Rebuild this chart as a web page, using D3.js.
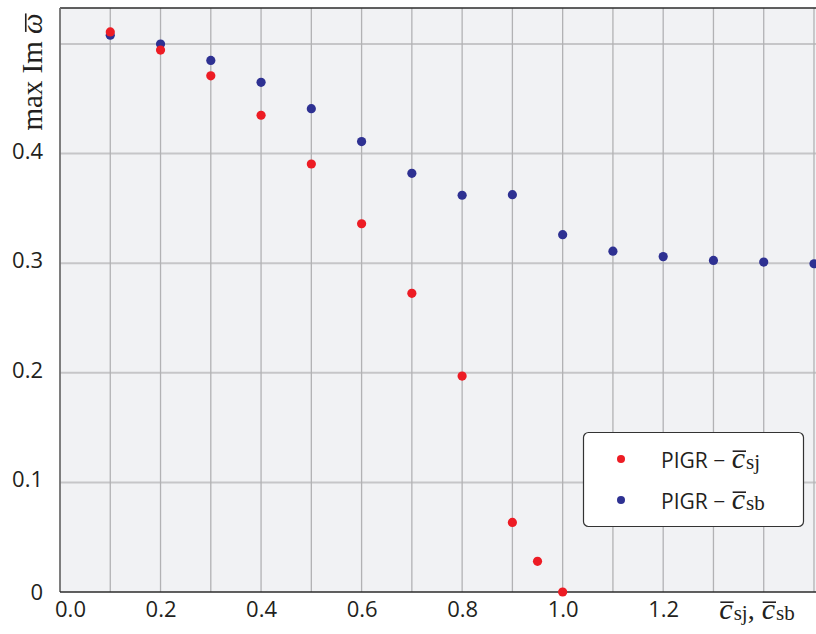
<!DOCTYPE html>
<html>
<head>
<meta charset="utf-8">
<script src="https://cdn.jsdelivr.net/npm/d3@7"></script>
<style>
  html, body { margin: 0; padding: 0; background: #ffffff; }
  svg { display: block; }
  text { white-space: pre; }
</style>
</head>
<body>
<svg id="chart" width="816" height="634"></svg>
<script>
// Growth-rate maxima versus the dimensionless speed parameter
const cValues = [0.1, 0.2, 0.3, 0.4, 0.5, 0.6, 0.7, 0.8, 0.9, 1.0, 1.1, 1.2, 1.3, 1.4, 1.5];
const sbValues = [0.508, 0.500, 0.485, 0.465, 0.441, 0.411, 0.382, 0.362, 0.3625, 0.326, 0.311, 0.306, 0.3025, 0.301, 0.2995];

const cSj = [0.1, 0.2, 0.3, 0.4, 0.5, 0.6, 0.7, 0.8, 0.9, 0.95, 1.0];
const sjValues = [0.511, 0.4945, 0.471, 0.435, 0.3905, 0.336, 0.2725, 0.197, 0.0635, 0.028, 0.0];

const xTickValues = [0.0, 0.2, 0.4, 0.6, 0.8, 1.0, 1.2];
const yTickValues = [0, 0.1, 0.2, 0.3, 0.4];
const xGridValues = [0.1, 0.2, 0.3, 0.4, 0.5, 0.6, 0.7, 0.8, 0.9, 1.0, 1.1, 1.2, 1.3, 1.4, 1.5];
const yGridValues = [0.1, 0.2, 0.3, 0.4, 0.5];

const legendLabels = ["sj", "sb"];

const RED = "#ed1c24";
const BLUE = "#2e3192";
const SANS = "'Open Sans', 'Liberation Sans', sans-serif";
const SERIF = "'Liberation Serif', 'DejaVu Serif', serif";

const svg = d3.select("#chart");
const plotLeft = 60, plotRight = 816, plotTop = 8, plotBottom = 592;

const x = d3.scaleLinear().domain([0, 1.504]).range([plotLeft, plotRight]);
const y = d3.scaleLinear().domain([0, 0.5]).range([plotBottom, 44]);

// plot background
svg.append("rect")
  .attr("x", plotLeft).attr("y", plotTop)
  .attr("width", plotRight - plotLeft).attr("height", plotBottom - plotTop)
  .attr("fill", "#f1f2f4");

// grid
svg.append("g").selectAll("line").data(yGridValues).join("line")
  .attr("x1", plotLeft).attr("x2", plotRight)
  .attr("y1", d => y(d)).attr("y2", d => y(d))
  .attr("stroke", "#c6c6c8").attr("stroke-width", 2);
svg.append("g").selectAll("line").data(xGridValues).join("line")
  .attr("x1", d => x(d)).attr("x2", d => x(d))
  .attr("y1", plotTop).attr("y2", plotBottom)
  .attr("stroke", "#b2b2b4").attr("stroke-width", 1.3);

// frame lines
svg.append("line").attr("x1", plotLeft).attr("x2", plotRight).attr("y1", plotTop).attr("y2", plotTop)
  .attr("stroke", "#2b2b2b").attr("stroke-width", 1.6);
svg.append("line").attr("x1", plotLeft).attr("x2", plotLeft).attr("y1", plotTop).attr("y2", plotBottom)
  .attr("stroke", "#707070").attr("stroke-width", 1.8);
svg.append("line").attr("x1", plotLeft).attr("x2", plotRight).attr("y1", plotBottom).attr("y2", plotBottom)
  .attr("stroke", "#2b2b2b").attr("stroke-width", 1.6);

// axes (labels only)
const xAxis = svg.append("g")
  .attr("transform", `translate(0,${plotBottom})`)
  .call(d3.axisBottom(x).tickValues(xTickValues).tickSize(0).tickPadding(9).tickFormat(d3.format(".1f")));
xAxis.select(".domain").remove();
xAxis.selectAll("text")
  .style("font-family", SANS).style("font-size", "22px").attr("fill", "#231f20")
  .attr("dy", "0.74em")
  .attr("dx", d => d === 0 ? 10 : 0);

const yAxis = svg.append("g")
  .attr("transform", `translate(${plotLeft},0)`)
  .call(d3.axisLeft(y).tickValues(yTickValues).tickSize(0).tickPadding(17)
    .tickFormat(d => d === 0 ? "0" : d3.format(".1f")(d)));
yAxis.select(".domain").remove();
yAxis.selectAll("text")
  .style("font-family", SANS).style("font-size", "22px").attr("fill", "#231f20")
  .attr("dy", d => d === 0 ? "0.34em" : "0.2em");

// composite math label: parts laid out left to right, optional overline
function mathLabel(g, parts) {
  let cx = 0;
  parts.forEach(p => {
    const t = g.append("text")
      .attr("x", cx).attr("y", p.dy || 0)
      .style("font-family", p.family || SERIF)
      .style("font-size", p.size + "px")
      .style("font-style", p.italic ? "italic" : "normal")
      .attr("fill", "#231f20")
      .text(p.t);
    const w = t.node().getComputedTextLength();
    if (p.bar) {
      g.append("line")
        .attr("x1", cx + p.bar[0]).attr("x2", cx + w + p.bar[1])
        .attr("y1", -p.size * 0.56).attr("y2", -p.size * 0.56)
        .attr("stroke", "#231f20").attr("stroke-width", 1.6);
    }
    cx += w + (p.gap || 0);
  });
  return cx;
}

// x-axis title: c̄_sj, c̄_sb
{
  const g = svg.append("g");
  const w = mathLabel(g, [
    { t: "c", size: 30, italic: true, bar: [1, 1], gap: 1 },
    { t: "sj", size: 21, dy: 1 },
    { t: ", ", size: 28 },
    { t: "c", size: 30, italic: true, bar: [1, 1], gap: 1 },
    { t: "sb", size: 21, dy: 1 }
  ]);
  g.attr("transform", `translate(${757 - w / 2},619)`);
}

// y-axis title: max Im ω̄
{
  const outer = svg.append("g").attr("transform", "translate(42,72) rotate(-90)");
  const g = outer.append("g");
  const w = mathLabel(g, [
    { t: "max Im ", size: 29 },
    { t: "ω", size: 29, italic: true, bar: [2, 0] }
  ]);
  g.attr("transform", `translate(${-w / 2},0)`);
}

// points
svg.append("g").selectAll("circle").data(cValues.map((c, i) => [c, sbValues[i]])).join("circle")
  .attr("cx", d => x(d[0])).attr("cy", d => y(d[1])).attr("r", 4.6)
  .attr("fill", BLUE);
svg.append("g").selectAll("circle").data(cSj.map((c, i) => [c, sjValues[i]])).join("circle")
  .attr("cx", d => x(d[0])).attr("cy", d => y(d[1])).attr("r", 4.6)
  .attr("fill", RED);

// legend
const legend = svg.append("g");
legend.append("rect")
  .attr("x", 583.5).attr("y", 432.5).attr("width", 220).attr("height", 94).attr("rx", 5)
  .attr("fill", "#ffffff").attr("stroke", "#333333").attr("stroke-width", 1.2);
[RED, BLUE].forEach((col, i) => {
  const cy = 459 + i * 41;
  legend.append("circle").attr("cx", 621).attr("cy", cy).attr("r", 4).attr("fill", col);
  const g = legend.append("g").attr("transform", `translate(661,${cy + 9})`);
  mathLabel(g, [
    { t: "PIGR \u2212 ", size: 21, family: SANS, gap: 1 },
    { t: "c", size: 30, italic: true, bar: [1, 1], gap: 1 },
    { t: legendLabels[i], size: 21, dy: 1 }
  ]);
});
</script>
</body>
</html>
